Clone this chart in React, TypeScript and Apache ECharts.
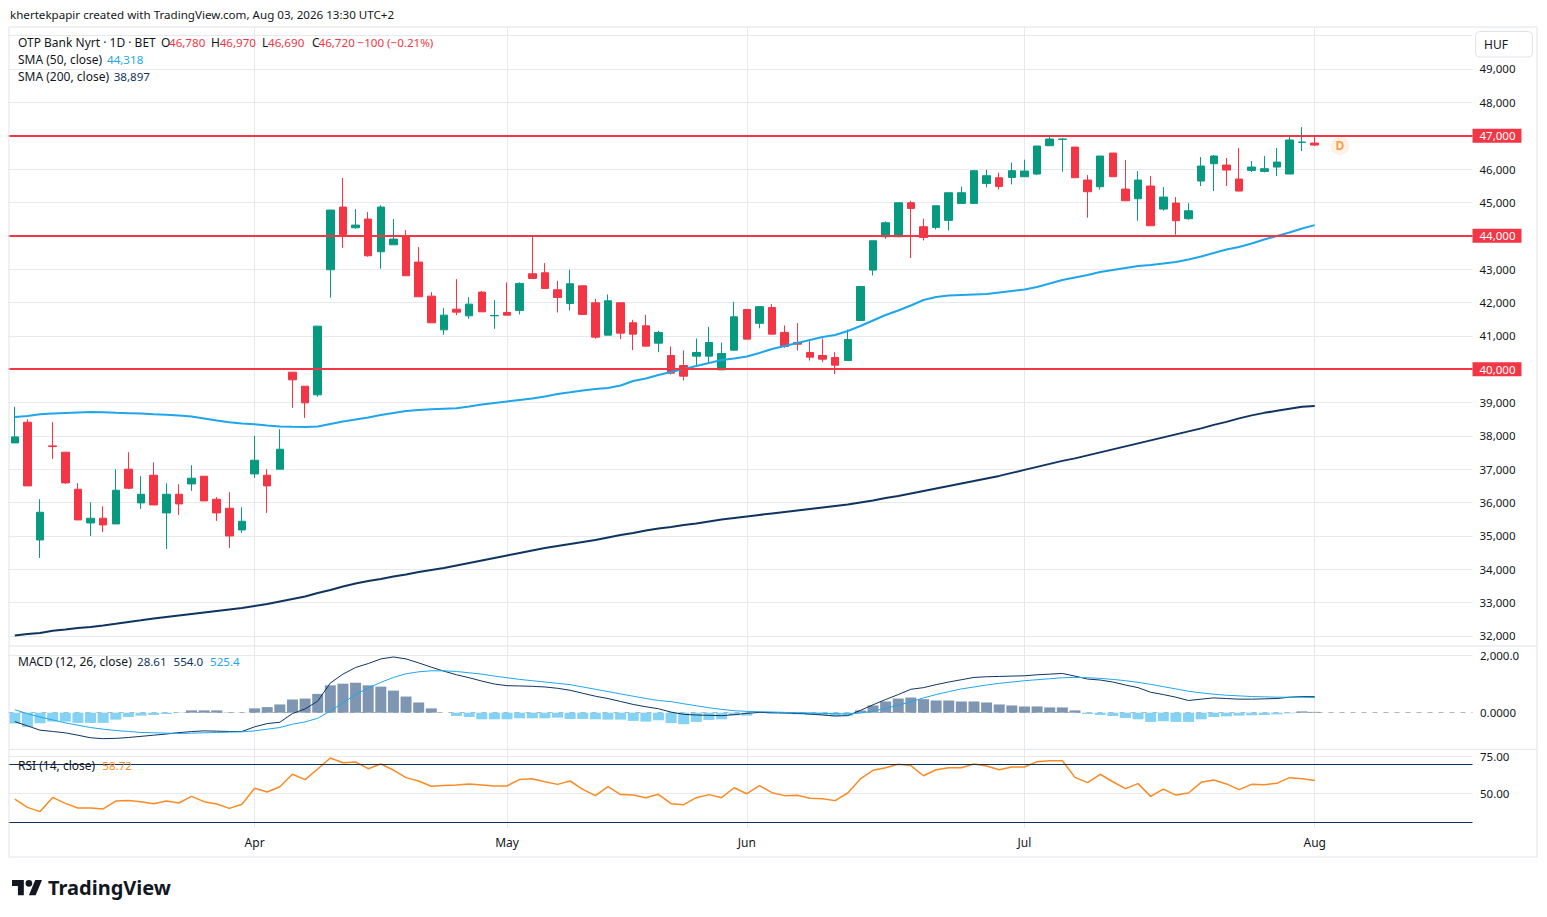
import React, { useEffect, useRef } from "react";
import * as echarts from "echarts";

const FONT = '"Noto Sans", Roboto, sans-serif';
const TXT = "#131722";
const UP = "#089981";
const DOWN = "#f23645";
const SMA50_C = "#1fa6ea";
const NAVY = "#0f3460";
const SIG_C = "#1fa6ea";
const HIST_POS = "#7f96b2";
const HIST_NEG = "#84d3f5";
const RSI_C = "#f98b24";
const GRID = "#e8e9ec";
const FRAME = "#e0e3eb";

// ---- data ----
const SLOTS = 116; // 104 trading days + empty space to the right
const categories = Array.from({ length: SLOTS }, (_, i) => String(i));
const monthTicks = [
  { index: 19, label: "Apr" },
  { index: 39, label: "May" },
  { index: 58, label: "Jun" },
  { index: 80, label: "Jul" },
  { index: 103, label: "Aug" },
];
const levels = [47000, 44000, 40000];

const open = [
  37790, 38410, 34880, 37700, 37510, 36400, 35390, 35530, 35360, 37000,
  35990, 36820, 35690, 36250, 36560, 36790, 36100, 35830, 35180, 36860,
  36820, 37000, 39910, 39490, 39230, 42980, 44860, 44240, 44500, 43520,
  43730, 43960, 43210, 42190, 41180, 41800, 41600, 42310, 41600, 41700,
  41760, 42860, 42890, 42380, 41970, 42500, 41990, 41020, 41990, 41390,
  41300, 40780, 40410, 40110, 40390, 40390, 39980, 40570, 41790, 41375,
  41850, 41100, 40800, 40500, 40410, 40350, 40260, 41460, 42970, 43970,
  43970, 44990, 44270, 44250, 44460, 44970, 44970, 45570, 45740, 45750,
  45770, 45850, 46700, 46890, 46660, 45670, 45470, 46480, 45400, 45110,
  45490, 44800, 44980, 44510, 45640, 46160, 46120, 45700, 45960, 45930,
  46060, 45850, 46800, 46780,
];
const close = [
  37970, 36500, 35710, 37680, 36590, 35480, 35530, 35330, 36370, 36430,
  36250, 35930, 36250, 35960, 36730, 36050, 35690, 35000, 35440, 37270,
  36500, 37600, 39680, 38990, 41290, 44770, 44040, 44320, 43400, 44860,
  43900, 42800, 42170, 41390, 41620, 41710, 41950, 41720, 41610, 41620,
  42570, 42720, 42420, 42150, 42560, 41640, 40960, 42050, 41080, 41050,
  40690, 41100, 39880, 39790, 40500, 40800, 40470, 41570, 40900, 41875,
  41050, 40680, 40750, 40360, 40300, 40120, 40890, 42480, 43850, 44390,
  44990, 44820, 43950, 44900, 45290, 45290, 45950, 45800, 45480, 45950,
  45940, 46690, 46900, 46900, 45740, 45320, 46390, 45770, 45050, 45670,
  44300, 45160, 44450, 44750, 46090, 46390, 45970, 45340, 46060, 46010,
  46210, 46870, 46810, 46720,
];
const low = [
  37790, 36500, 34340, 37310, 36560, 35480, 35000, 35120, 35360, 36400,
  35810, 35930, 34610, 35630, 36350, 36050, 35450, 34640, 35090, 36740,
  35690, 37000, 38840, 38540, 39170, 42140, 43640, 44210, 43370, 43010,
  43730, 42800, 42170, 41390, 41030, 41620, 41510, 41720, 41210, 41620,
  41640, 42720, 42420, 41700, 41760, 41640, 40910, 41020, 40900, 40570,
  40690, 40510, 39840, 39660, 40120, 40200, 39980, 40570, 40900, 41225,
  41050, 40640, 40560, 40260, 40210, 39850, 40260, 41460, 42810, 43910,
  43970, 43330, 43860, 44190, 44160, 44970, 44970, 45450, 45390, 45540,
  45770, 45820, 46700, 45920, 45740, 44540, 45380, 45770, 45050, 44450,
  44300, 44750, 44030, 44480, 45490, 45340, 45490, 45340, 45910, 45900,
  45790, 45850, 46540, 46690,
];
const high = [
  38870, 38500, 36100, 38410, 37510, 36580, 36010, 35890, 37000, 37510,
  36790, 37210, 36580, 36550, 37120, 36790, 36160, 36310, 35860, 38000,
  37000, 38200, 39910, 39490, 41290, 44770, 45730, 44800, 44710, 44920,
  44500, 44170, 43660, 42310, 41830, 42700, 42160, 42340, 42070, 42600,
  42600, 44000, 43180, 42650, 42980, 42500, 42110, 42240, 41990, 41480,
  41630, 41150, 40680, 40560, 40920, 41270, 40800, 42020, 41790, 41875,
  41950, 41310, 41380, 40840, 40920, 40510, 41190, 42480, 43850, 44430,
  44990, 45050, 44510, 44900, 45290, 45470, 45950, 45980, 45890, 46190,
  46280, 46690, 46990, 46920, 46660, 45820, 46390, 46480, 46270, 45940,
  45790, 45460, 45160, 44980, 46360, 46420, 46330, 46630, 46240, 46390,
  46630, 46960, 47260, 46970,
];
const sma50 = [
  38567, 38597, 38648, 38672, 38687, 38702, 38717, 38708, 38693, 38681,
  38669, 38651, 38636, 38609, 38579, 38522, 38462, 38408, 38372, 38348,
  38312, 38282, 38273, 38267, 38282, 38357, 38432, 38492, 38552, 38627,
  38687, 38747, 38777, 38798, 38816, 38828, 38882, 38942, 38987, 39032,
  39076, 39121, 39181, 39256, 39307, 39361, 39406, 39436, 39511, 39646,
  39721, 39826, 39916, 40006, 40096, 40186, 40276, 40321, 40381, 40486,
  40606, 40696, 40786, 40876, 40966, 41026, 41145, 41295, 41460, 41625,
  41760, 41910, 42075, 42165, 42210, 42225, 42240, 42255, 42300, 42345,
  42390, 42465, 42570, 42675, 42750, 42825, 42915, 42975, 43035, 43095,
  43125, 43170, 43215, 43290, 43380, 43485, 43590, 43665, 43770, 43890,
  43994, 44099, 44219, 44318,
];
const sma200 = [
  32015, 32060, 32090, 32159, 32198, 32240, 32270, 32315, 32366, 32420,
  32471, 32525, 32570, 32615, 32660, 32705, 32750, 32795, 32840, 32900,
  32960, 33035, 33110, 33185, 33290, 33380, 33485, 33575, 33650, 33710,
  33785, 33845, 33920, 33980, 34040, 34115, 34190, 34265, 34340, 34415,
  34490, 34565, 34640, 34700, 34760, 34820, 34880, 34955, 35030, 35090,
  35165, 35225, 35270, 35330, 35375, 35435, 35495, 35540, 35585, 35630,
  35675, 35720, 35765, 35810, 35855, 35900, 35945, 36005, 36065, 36140,
  36200, 36275, 36350, 36425, 36500, 36575, 36650, 36725, 36800, 36890,
  36980, 37070, 37160, 37250, 37325, 37415, 37505, 37595, 37685, 37775,
  37865, 37955, 38045, 38135, 38225, 38330, 38420, 38525, 38615, 38690,
  38750, 38810, 38870, 38897,
];
const macdHist = [
  -377, -491, -366, -309, -309, -354, -354, -354, -240, -149,
  -103, -80, -46, -11, 80, 80, 80, 11, 5, 149,
  194, 286, 457, 491, 651, 949, 1006, 1040, 949, 903,
  766, 560, 354, 149, 0, -114, -149, -229, -229, -229,
  -194, -194, -194, -171, -217, -217, -229, -240, -240, -286,
  -309, -263, -360, -400, -320, -251, -229, -91, -103, -10,
  -34, -34, -57, -80, -80, -126, -103, 80, 251, 389,
  491, 526, 469, 423, 423, 389, 389, 354, 286, 251,
  217, 217, 183, 183, 80, -46, -80, -114, -183, -229,
  -320, -297, -320, -320, -229, -149, -126, -103, -91, -80,
  -57, -23, 46, 28.61,
];
const macdLine = [
  -309, -457, -606, -651, -697, -780, -870, -900, -890, -860,
  -820, -780, -740, -690, -655, -630, -640, -651, -651, -490,
  -377, -331, -30, 130, 400, 1029, 1337, 1566, 1703, 1863,
  1932, 1863, 1726, 1577, 1440, 1314, 1212, 1097, 994, 937,
  926, 914, 892, 846, 777, 674, 571, 491, 389, 286,
  206, 137, 20, -57, -80, -91, -103, -69, -23, 11,
  0, -11, -23, -46, -80, -114, -103, 80, 274, 457,
  629, 812, 869, 972, 1063, 1143, 1223, 1246, 1257, 1269,
  1280, 1314, 1337, 1360, 1269, 1166, 1132, 1063, 960, 869,
  709, 629, 537, 423, 469, 514, 491, 469, 469, 480,
  491, 537, 560, 554,
];
const signalLine = [
  103, -34, -149, -251, -354, -434, -514, -571, -617, -651,
  -686, -697, -709, -720, -709, -697, -686, -674, -663, -629,
  -571, -514, -400, -320, -194, 57, 343, 629, 857, 1052,
  1223, 1349, 1417, 1452, 1452, 1429, 1383, 1337, 1269, 1212,
  1154, 1109, 1063, 1017, 972, 892, 812, 731, 651, 571,
  491, 423, 383, 309, 240, 171, 114, 69, 46, 34,
  23, 11, 0, -11, -23, -34, -46, -11, 57, 149,
  263, 377, 514, 629, 731, 823, 892, 960, 1017, 1063,
  1109, 1143, 1177, 1212, 1223, 1212, 1189, 1154, 1109, 1052,
  983, 903, 823, 743, 686, 640, 606, 583, 560, 549,
  537, 537, 537, 525.4,
];
const rsi = [
  46.1, 40.4, 37.5, 47.2, 43.1, 40.0, 40.0, 39.3, 44.7, 45.0,
  44.3, 42.9, 44.7, 43.4, 47.9, 44.3, 42.7, 39.7, 42.5, 53.4,
  50.9, 54.5, 63.0, 59.3, 66.6, 74.1, 70.9, 71.4, 66.8, 70.0,
  65.9, 60.7, 58.4, 54.8, 55.4, 55.7, 56.4, 55.7, 55.0, 55.0,
  59.5, 60.0, 57.9, 56.1, 58.4, 52.7, 48.4, 54.5, 49.1, 48.8,
  47.0, 49.3, 42.9, 42.2, 47.0, 49.1, 47.0, 53.8, 49.7, 55.2,
  50.4, 48.4, 48.6, 46.6, 46.3, 45.0, 50.2, 59.8, 65.7, 67.5,
  69.8, 68.9, 62.0, 66.1, 67.5, 67.5, 70.0, 68.6, 66.1, 68.0,
  68.0, 71.6, 72.3, 72.3, 60.9, 57.3, 63.0, 57.9, 53.2, 56.6,
  47.9, 52.9, 48.8, 50.2, 57.5, 59.1, 56.4, 52.5, 56.1, 55.9,
  56.8, 60.7, 60.0, 58.72,
];
const rsiBands = [70, 30];
const dividend = [[105, 46702]];

// ---- TradingView logo shape ----
const LOGO_D =
  "M14 22H7V11H0V4h14v18z M28 22h-8l7.5-18h8L28 22z M24 8a4 4 0 1 1-8 0a4 4 0 1 1 8 0z";
let logoRegistered = false;
function registerLogo() {
  if (logoRegistered) return;
  echarts.graphic.registerShape("tvlogo", echarts.graphic.extendPath(LOGO_D, {}) as any);
  logoRegistered = true;
}

const fmtNum = (v: number) => v.toLocaleString("en-US");

function txt(x: number, y: number, text: string, fill: string, size = 12, weight: any = "normal") {
  return {
    type: "text",
    x,
    y,
    silent: true,
    z: 100,
    style: { text, fill, fontSize: size, fontFamily: FONT, fontWeight: weight, verticalAlign: "middle", align: "left" },
  };
}

function vLines(g: number) {
  return {
    type: "line",
    xAxisIndex: g,
    yAxisIndex: g,
    data: [],
    silent: true,
    markLine: {
      silent: true,
      z: 1,
      animation: false,
      symbol: ["none", "none"],
      label: { show: false },
      lineStyle: { color: GRID, width: 1, type: "solid" },
      data: monthTicks.map((m) => ({ xAxis: m.index })),
    },
  };
}

function buildOption() {
  const xAxes = [0, 1, 2].map((g) => ({
    type: "category",
    gridIndex: g,
    data: categories,
    boundaryGap: true,
    axisLine: { show: false },
    axisTick: { show: false },
    splitLine: { show: false },
    axisLabel:
      g === 2
        ? {
            show: true,
            interval: (idx: number) => monthTicks.some((m) => m.index === idx),
            formatter: (_v: string, idx: number) => {
              const m = monthTicks.find((t) => t.index === idx);
              return m ? m.label : "";
            },
            color: TXT,
            fontSize: 12,
            fontFamily: FONT,
            margin: 8,
          }
        : { show: false },
  }));

  const mainLabelStyle = { fontSize: 11.5, fontFamily: FONT, lineHeight: 13, padding: [1, 6, 1, 7] };

  return {
    animation: false,
    backgroundColor: "#ffffff",
    textStyle: { fontFamily: FONT },
    grid: [
      { left: 8.5, top: 27, width: 1464, height: 619, outerBoundsMode: "none" },
      { left: 8.5, top: 646, width: 1464, height: 103.3, outerBoundsMode: "none" },
      { left: 8.5, top: 749.3, width: 1464, height: 78.7, outerBoundsMode: "none" },
    ],
    xAxis: xAxes,
    yAxis: [
      {
        type: "value",
        gridIndex: 0,
        position: "right",
        min: 31700,
        max: 50259,
        minInterval: 1000,
        maxInterval: 1000,
        axisLine: { show: false },
        axisTick: { show: false },
        splitLine: { show: true, showMinLine: false, showMaxLine: false, lineStyle: { color: GRID } },
        axisLabel: {
          margin: 0,
          showMinLabel: false,
          showMaxLabel: false,
          formatter: (v: number) => {
            if (v === 50000) return "";
            return levels.includes(v) ? `{r|${fmtNum(v)}}` : `{n|${fmtNum(v)}}`;
          },
          rich: {
            n: { ...mainLabelStyle, color: TXT },
            r: { ...mainLabelStyle, color: "#ffffff", backgroundColor: DOWN },
          },
        },
      },
      {
        type: "value",
        gridIndex: 1,
        position: "right",
        min: -1269,
        max: 2312,
        minInterval: 2000,
        maxInterval: 2000,
        axisLine: { show: false },
        axisTick: { show: false },
        splitLine: { show: false },
        axisLabel: {
          margin: 7.5,
          showMinLabel: false,
          showMaxLabel: false,
          color: TXT,
          fontSize: 11.5,
          fontFamily: FONT,
          formatter: (v: number) => (v === 0 ? "0.0000" : v === 2000 ? "2,000.0" : ""),
        },
      },
      {
        type: "value",
        gridIndex: 2,
        position: "right",
        min: 26.3,
        max: 80.05,
        minInterval: 25,
        maxInterval: 25,
        axisLine: { show: false },
        axisTick: { show: false },
        splitLine: { show: true, showMinLine: false, showMaxLine: false, lineStyle: { color: GRID } },
        axisLabel: {
          margin: 7.5,
          showMinLabel: false,
          showMaxLabel: false,
          color: TXT,
          fontSize: 11.5,
          fontFamily: FONT,
          formatter: (v: number) => v.toFixed(2),
        },
      },
    ],
    series: [
      vLines(0),
      vLines(1),
      vLines(2),
      {
        type: "candlestick",
        name: "OTP",
        xAxisIndex: 0,
        yAxisIndex: 0,
        barWidth: 8,
        data: open.map((o, i) => [o, close[i], low[i], high[i]]),
        itemStyle: { color: UP, color0: DOWN, borderColor: UP, borderColor0: DOWN, borderWidth: 1 },
        emphasis: { disabled: true },
        markLine: {
          silent: true,
          animation: false,
          symbol: ["none", "none"],
          label: { show: false },
          lineStyle: { color: DOWN, width: 2, type: "solid" },
          data: levels.map((v) => ({ yAxis: v })),
        },
      },
      {
        type: "line",
        name: "SMA 50",
        xAxisIndex: 0,
        yAxisIndex: 0,
        data: sma50,
        showSymbol: false,
        symbol: "none",
        smooth: false,
        lineStyle: { color: SMA50_C, width: 2 },
        z: 3,
      },
      {
        type: "line",
        name: "SMA 200",
        xAxisIndex: 0,
        yAxisIndex: 0,
        data: sma200,
        showSymbol: false,
        symbol: "none",
        lineStyle: { color: NAVY, width: 2 },
        z: 3,
      },
      {
        type: "scatter",
        name: "Dividend",
        xAxisIndex: 0,
        yAxisIndex: 0,
        data: dividend,
        symbol: "circle",
        symbolSize: 19,
        itemStyle: { color: "#fdefdc" },
        label: { show: true, position: "inside", formatter: "D", color: "#f5891f", fontSize: 12, fontWeight: "bold", fontFamily: FONT },
        silent: true,
      },
      {
        type: "bar",
        name: "Histogram",
        xAxisIndex: 1,
        yAxisIndex: 1,
        barWidth: 11,
        data: macdHist.map((v) => ({ value: v, itemStyle: { color: v >= 0 ? HIST_POS : HIST_NEG } })),
        markLine: {
          silent: true,
          z: 1,
          animation: false,
          symbol: ["none", "none"],
          label: { show: false },
          lineStyle: { color: "#b2b5be", width: 1, type: [5, 6] },
          data: [{ yAxis: 0 }],
        },
      },
      {
        type: "line",
        name: "MACD",
        xAxisIndex: 1,
        yAxisIndex: 1,
        data: macdLine,
        showSymbol: false,
        symbol: "none",
        lineStyle: { color: NAVY, width: 1 },
        z: 3,
        markLine: {
          silent: true,
          z: 1,
          animation: false,
          symbol: ["none", "none"],
          label: { show: false },
          lineStyle: { color: GRID, width: 1, type: "solid" },
          data: [{ yAxis: 2000 }],
        },
      },
      {
        type: "line",
        name: "Signal",
        xAxisIndex: 1,
        yAxisIndex: 1,
        data: signalLine,
        showSymbol: false,
        symbol: "none",
        lineStyle: { color: SIG_C, width: 1 },
        z: 3,
      },
      {
        type: "line",
        name: "RSI",
        xAxisIndex: 2,
        yAxisIndex: 2,
        data: rsi,
        showSymbol: false,
        symbol: "none",
        lineStyle: { color: RSI_C, width: 1.5 },
        z: 3,
        markLine: {
          silent: true,
          animation: false,
          symbol: ["none", "none"],
          label: { show: false },
          lineStyle: { color: "#0c2f5c", width: 1, type: "solid" },
          data: rsiBands.map((v) => ({ yAxis: v })),
        },
      },
    ],
    graphic: [
      { type: "rect", silent: true, z: 90, shape: { x: 9, y: 27, width: 1528, height: 830 }, style: { fill: "none", stroke: FRAME, lineWidth: 1 } },
      { type: "line", silent: true, z: 90, shape: { x1: 9, y1: 646, x2: 1537, y2: 646 }, style: { stroke: FRAME, lineWidth: 1 } },
      { type: "line", silent: true, z: 90, shape: { x1: 9, y1: 749.3, x2: 1537, y2: 749.3 }, style: { stroke: FRAME, lineWidth: 1 } },
      txt(10, 14, "khertekpapir created with TradingView.com, Aug 03, 2026 13:30 UTC+2", TXT, 11.6),
      txt(18, 42, "OTP Bank Nyrt · 1D · BET", TXT),
      txt(161, 42, "O", TXT),
      txt(169, 42, "46,780", DOWN, 11.6),
      txt(211, 42, "H", TXT),
      txt(219.7, 42, "46,970", DOWN, 11.6),
      txt(262, 42, "L", TXT),
      txt(268, 42, "46,690", DOWN, 11.6),
      txt(312, 42, "C", TXT),
      txt(318.5, 42, "46,720", DOWN, 11.6),
      txt(357.5, 42, "\u2212100 (\u22120.21%)", DOWN, 11.6),
      txt(18, 59, "SMA (50, close)", TXT),
      txt(107, 59, "44,318", SMA50_C, 11.6),
      txt(18, 76, "SMA (200, close)", TXT),
      txt(113.7, 76, "38,897", NAVY, 11.6),
      txt(18, 661, "MACD (12, 26, close)", TXT),
      txt(137, 661, "28.61", NAVY, 11.6),
      txt(173.5, 661, "554.0", NAVY, 11.6),
      txt(210, 661, "525.4", SIG_C, 11.6),
      txt(18, 765, "RSI (14, close)", TXT),
      txt(102.3, 765, "58.72", RSI_C, 11.6),
      { type: "rect", silent: true, z: 95, shape: { x: 1475.5, y: 31.5, width: 57, height: 25.5, r: 4 }, style: { fill: "#ffffff", stroke: FRAME, lineWidth: 1 } },
      txt(1484, 44.5, "HUF", TXT, 12),
      { type: "tvlogo", silent: true, z: 100, x: 12, y: 876.6, scaleX: 0.845, scaleY: 0.845, style: { fill: TXT } },
      txt(48, 887, "TradingView", TXT, 20, "bold"),
    ],
  };
}

export default function App() {
  const ref = useRef<HTMLDivElement>(null);
  useEffect(() => {
    registerLogo();
    const chart = echarts.init(ref.current as HTMLDivElement, undefined, { renderer: "svg" });
    chart.setOption(buildOption() as any);
    return () => chart.dispose();
  }, []);
  return (
    <div
      ref={ref}
      style={{ position: "fixed", left: 0, top: 0, width: 1547, height: 917, background: "#ffffff" }}
    />
  );
}
